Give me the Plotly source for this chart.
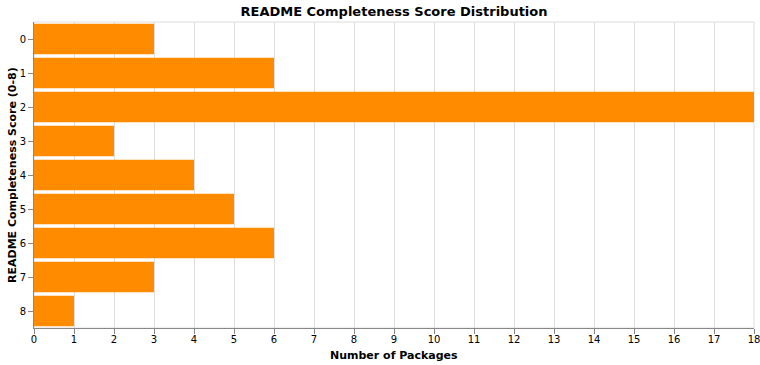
import plotly.graph_objects as go

scores = ["0", "1", "2", "3", "4", "5", "6", "7", "8"]
counts = [3, 6, 18, 2, 4, 5, 6, 3, 1]
x_ticks = list(range(0, 19))

W, H = 760, 365
L, R, T, B = 34, 6, 22, 37

fig = go.Figure()
fig.add_trace(go.Bar(
    x=counts, y=scores, orientation="h",
    marker=dict(color="#FF8C00", line=dict(width=0)),
    hoverinfo="x+y",
))

fig.update_layout(
    width=W, height=H,
    margin=dict(l=L, r=R, t=T, b=B, autoexpand=False),
    paper_bgcolor="white", plot_bgcolor="white",
    bargap=0.1,
    font=dict(family="DejaVu Sans", size=10, color="black"),
    title=dict(text="<b>README Completeness Score Distribution</b>",
               x=(L + (W - L - R) / 2) / W, xanchor="center", y=1 - 11 / H, yanchor="middle",
               font=dict(size=13, family="DejaVu Sans")),
    showlegend=False,
    xaxis=dict(
        range=[0, 18], tickvals=x_ticks, ticktext=[str(v) for v in x_ticks],
        showgrid=True, gridcolor="#dddddd", gridwidth=1,
        showline=True, linecolor="#888888", linewidth=1,
        ticks="outside", ticklen=5, tickcolor="#888888",
        zeroline=False, automargin=False, ticklabeloverflow="allow",
        ticklabelstandoff=-3,
        tickfont=dict(size=10),
    ),
    yaxis=dict(
        type="category", categoryorder="array", categoryarray=scores,
        autorange="reversed",
        showgrid=False,
        showline=True, linecolor="#888888", linewidth=1,
        ticks="outside", ticklen=5, tickcolor="#888888",
        automargin=False,
        tickfont=dict(size=10),
    ),
    annotations=[
        dict(text="<b>Number of Packages</b>", xref="paper", yref="paper",
             x=0.5, y=-(355 - (H - B)) / (H - T - B), xanchor="center", yanchor="middle",
             showarrow=False, font=dict(size=11)),
        dict(text="<b>README Completeness Score (0-8)</b>", xref="paper", yref="paper",
             x=-(L - 12) / (W - L - R), y=0.5, xanchor="center", yanchor="middle",
             textangle=-90, showarrow=False, font=dict(size=11)),
    ],
)
fig.add_shape(type="rect", xref="paper", yref="paper", x0=0, x1=1, y0=0, y1=1,
              line=dict(color="#dddddd", width=1), fillcolor="rgba(0,0,0,0)", layer="below")

fig.write_html(
    "out.html",
    config={"displayModeBar": False},
    post_script="document.body.style.margin='0';document.body.style.overflow='hidden';",
)
